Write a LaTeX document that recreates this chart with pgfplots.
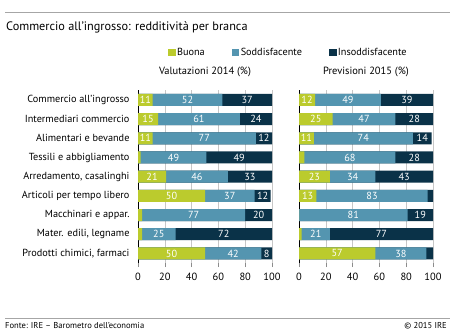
\documentclass[border=0pt]{standalone}
\usepackage{pgfplots}
\pgfplotsset{compat=1.18}
\usepackage{pgfplotstable}
\usepackage{fontspec}
\setmainfont{PT Sans}
\definecolor{cB}{RGB}{187,203,45}
\definecolor{cS}{RGB}{84,149,176}
\definecolor{cI}{RGB}{10,50,72}

\pgfplotstableread{
idx b s i
1 11 52 37
2 15 61 24
3 11 77 12
4 2 49 49
5 21 46 33
6 50 37 12
7 3 77 20
8 3 25 72
9 50 42 8
}\leftdata

\pgfplotstableread{
idx b s i
1 12 49 39
2 25 47 28
3 11 74 14
4 4 68 28
5 23 34 43
6 13 83 4
7 0 81 19
8 2 21 77
9 57 38 5
}\rightdata

\pgfplotsset{
  panel/.style={
    anchor=south west,
    width=134bp, height=172.7bp, scale only axis,
    xmin=0, xmax=100, ymin=0.5, ymax=9.5, y dir=reverse,
    xtick={0,20,...,100}, ytick={1,...,9},
    xmajorgrids, major grid style={color=black!22, line width=0.6bp},
    axis x line*=bottom, axis y line*=left,
    x axis line style={draw=none},
    y axis line style={draw=black, line width=0.8bp, -},
    tick align=outside, major tick length=4bp,
    xtick style={color=black!45, line width=0.6bp},
    ytick style={draw=none},
    /pgf/number format/assume math mode=true,
    xticklabel style={font=\fontsize{10.5}{12}\selectfont, yshift=-3bp},
    yticklabel style={font=\fontsize{10.3}{12}\selectfont, xshift=-1bp},
    title style={at={(0.5,1)}, anchor=center, yshift=12.5bp, font=\fontsize{10.5}{12}\selectfont},
    clip=false,
  },
  mybar/.style={xbar, bar width=12bp, bar shift=0pt, draw=none, fill=#1, forget plot},
  lab/.style={draw=none, forget plot, point meta=explicit symbolic,
    nodes near coords={\ifdim\pgfplotspointmeta pt<6pt\else\pgfplotspointmeta\fi},
    every node near coord/.style={anchor=center, text=white, font=\fontsize{10.3}{12}\selectfont, inner sep=0pt}},
}

\newcommand{\drawpanel}[1]{%
  \addplot[mybar=cI] table[x expr=\thisrow{b}+\thisrow{s}+\thisrow{i}, y=idx] {#1};
  \addplot[mybar=cS] table[x expr=\thisrow{b}+\thisrow{s}, y=idx] {#1};
  \addplot[mybar=cB] table[x=b, y=idx] {#1};
  \addplot[lab] table[x expr=\thisrow{b}/2, y=idx, meta=b] {#1};
  \addplot[lab] table[x expr=\thisrow{b}+\thisrow{s}/2, y=idx, meta=s] {#1};
  \addplot[lab] table[x expr=\thisrow{b}+\thisrow{s}+\thisrow{i}/2, y=idx, meta=i] {#1};
}

\begin{document}
\begin{tikzpicture}[x=1bp,y=1bp]
\path[use as bounding box] (0,0) rectangle (450,333);
\draw[black!35, line width=1bp] (5,320) -- (450,320);
\draw[black!35, line width=1bp] (5,14.5) -- (450,14.5);
\node[anchor=west, inner sep=0pt, font=\fontsize{12.3}{14}\selectfont] at (6,306) {Commercio all'ingrosso: redditività per branca};
\node[anchor=west, inner sep=0pt, font=\fontsize{8.6}{10}\selectfont] at (5,7.5) {Fonte: IRE – Barometro dell'economia};
\node[anchor=east, inner sep=0pt, font=\fontsize{8.6}{10}\selectfont] at (447,7.5) {© 2015 IRE};

\begin{axis}[panel, at={(138bp,70bp)},
  title={Valutazioni 2014 (\%)},
  yticklabels={Commercio all'ingrosso, Intermediari commercio, Alimentari e bevande,
    Tessili e abbigliamento, {Arredamento, casalinghi}, Articoli per tempo libero,
    Macchinari e appar., {Mater. edili, legname}, {Prodotti chimici, farmaci}},
  legend columns=3,
  legend image code/.code={\fill[#1] (0bp,-3.3bp) rectangle (6.6bp,3.3bp);},
  legend style={at={(1.122,1.221)}, anchor=center, draw=none, fill=none,
    font=\fontsize{10.3}{12}\selectfont, inner sep=0pt,
    /tikz/every even column/.append style={column sep=25bp},
    /tikz/every odd column/.append style={column sep=0bp}},
]
\drawpanel{\leftdata}
\addlegendimage{cB}\addlegendentry{Buona}
\addlegendimage{cS}\addlegendentry{Soddisfacente}
\addlegendimage{cI}\addlegendentry{Insoddisfacente}
\end{axis}

\begin{axis}[panel, at={(299bp,70bp)},
  title={Previsioni 2015 (\%)},
  yticklabels={},
]
\drawpanel{\rightdata}
\end{axis}
\end{tikzpicture}
\end{document}
